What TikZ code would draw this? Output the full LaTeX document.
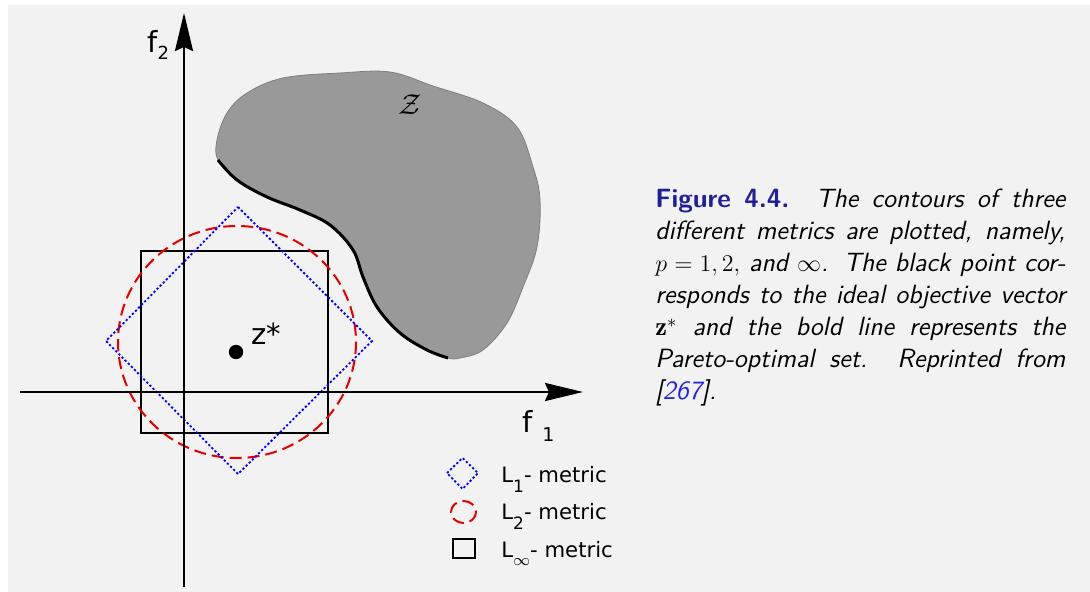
\documentclass[tikz,border=0pt]{standalone}
\usepackage{amsmath,amssymb}
\usepackage{fontspec}
\usetikzlibrary{arrows.meta}
\newfontfamily\dvsans{DejaVu Sans}
\definecolor{bggrey}{HTML}{F2F2F2}
\definecolor{zgrey}{HTML}{999999}
\definecolor{zedge}{HTML}{7F7F7F}
\definecolor{capblue}{HTML}{1F1F99}
\definecolor{refblue}{HTML}{2020F0}
\newcommand{\lowsub}[3]{\raisebox{-#1}{\fontsize{#2}{#2}\selectfont #3}}
\newcommand{\capline}[1]{\hbox to 205pt{\spaceskip=0.28em plus 1em minus 0.05em\relax #1}}

\tikzset{
  axis/.style={line width=1.2pt,-{Stealth[length=19pt,width=9pt,inset=2pt]}},
  lone/.style={blue,line width=0.9pt,dash pattern=on 1.1pt off 1.1pt},
  ltwo/.style={red!90!black,line width=1pt,dash pattern=on 6pt off 3pt},
  linf/.style={black,line width=0.8pt},
  label/.style={font=\dvsans\fontsize{14.5}{14.5}\selectfont,inner sep=0pt,anchor=base west},
  legtext/.style={font=\dvsans\fontsize{10.6}{10.6}\selectfont,inner sep=0pt,anchor=base west},
}

\begin{document}
\begin{tikzpicture}[x=0.5pt,y=-0.5pt]
  \useasboundingbox (0,0) rectangle (1090,592);
  \fill[white] (0,0) rectangle (1090,592);
  \fill[bggrey] (8,5) rectangle (1090,592);

  % feasible region Z
  \draw[zedge,line width=0.4pt,fill=zgrey] plot[smooth cycle,tension=0.6] coordinates {
    (218,160) (217,140) (227,113) (247,93) (283,78) (340,73) (390,72)
    (433,86) (483,103) (517,127) (533,167) (540,200) (537,247) (523,287)
    (507,323) (483,350) (460,358) (448,358) (427,350) (400,333) (377,307)
    (363,277) (353,250) (330,225) (300,210) (267,197) (237,180)};
  % Pareto-optimal set
  \draw[line width=1.5pt] plot[smooth,tension=0.6] coordinates {
    (218,160) (237,180) (267,197) (300,210) (330,225) (353,250)
    (363,277) (377,307) (400,333) (427,350) (448,358)};
  \node[inner sep=0pt,anchor=base west] (zlabel) at (398,115)
    {\fontsize{14}{14}\selectfont$\mathcal{Z}$};

  % contours around the ideal point
  \draw[linf] (141,251) rectangle (328,433);
  \draw[ltwo] (237,342) circle[x radius=119,y radius=116];
  \draw[lone] (238,207) -- (372,341) -- (238,474) -- (106,341) -- cycle;

  % axes
  \coordinate (xstart) at (20,392);
  \coordinate (xend) at (583,392);
  \coordinate (ystart) at (184,587);
  \coordinate (yend) at (184,13);
  \draw[axis] (xstart) -- (xend);
  \draw[axis] (ystart) -- (yend);
  \node[label] (ftwo) at (147,53) {f\lowsub{3.5pt}{9}{2}};
  \node[label] (fone) at (522,432) {f\,\,\lowsub{4.5pt}{9.5}{1}};

  % ideal point
  \fill (236,352) circle (3.6pt);
  \node[label] (zstar) at (251,345) {z*};

  % legend
  \draw[lone] (447,473) -- (462.5,458) -- (478,473) -- (462.5,489) -- cycle;
  \draw[ltwo] (463.5,512) circle[x radius=12.5,y radius=11];
  \draw[linf] (453,539) rectangle (475,558);
  \node[legtext] (lone) at (501,482) {L\lowsub{5pt}{8.5}{1}- metric};
  \node[legtext] (ltwo) at (501,519) {L\lowsub{5pt}{8.5}{2}- metric};
  \node[legtext] (linf) at (501,557) {L\lowsub{4pt}{8.5}{$\infty$}- metric};

  % caption
  \node[anchor=north west,inner sep=0pt,text width=205pt,align=justify,
        font=\sffamily\fontsize{13.2}{16}\selectfont\itshape] (caption) at (655,189)
    {\capline{{\upshape\bfseries\color{capblue}Figure 4.4.}\quad The contours of three}
     \capline{different metrics are plotted, namely,}
     \capline{$p=1,2,$ and $\infty$. The black point cor-}
     \capline{responds to the ideal objective vector}
     \capline{$\mathbf{z}^*$ and the bold line represents the}
     \capline{Pareto-optimal set.\ \ Reprinted from}
     [{\color{refblue}267}].};
\end{tikzpicture}
\end{document}
